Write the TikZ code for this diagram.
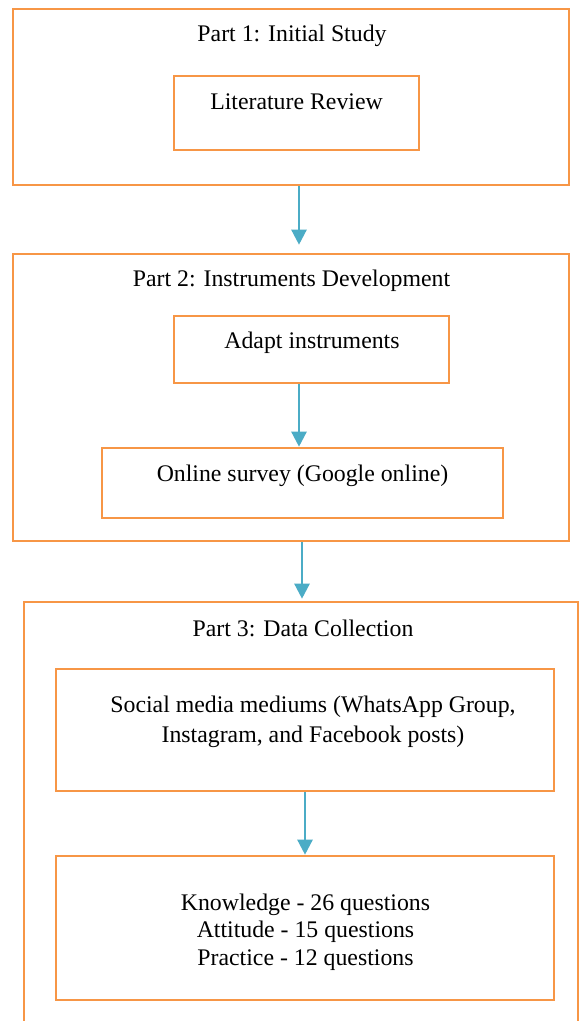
\documentclass[tikz,border=0pt]{standalone}
\usepackage{fontspec}
\setmainfont{Liberation Serif}
\usetikzlibrary{arrows.meta}

\definecolor{boxorange}{HTML}{F79646}
\definecolor{arrowblue}{HTML}{4BACC6}

\tikzset{
  box/.style={draw=boxorange, line width=1.3pt, rectangle, inner sep=0pt},
  txt/.style={anchor=base, inner sep=0pt, align=center, font=\fontsize{11.9}{15}\selectfont},
  flow/.style={draw=arrowblue, line width=1.2pt, -{Triangle[width=7.5pt,length=7.5pt]}}
}

\begin{document}
\begin{tikzpicture}[x=0.5pt,y=-0.5pt]
        \clip (0,0) rectangle (579,1021);
        \fill[white] (0,0) rectangle (579,1021);
        % part 1
        \node[box, minimum width=278pt, minimum height=88pt] (part1) at (291,97) {};
        \node[txt] (t1) at (292,42) {Part 1: Initial Study};
        \node[box, minimum width=122.5pt, minimum height=37pt] (lit) at (296.5,113) {};
        \node[txt] (tlit) at (296.5,110) {Literature Review};
        % part 2
        \node[box, minimum width=278pt, minimum height=143.5pt] (part2) at (291,397.5) {};
        \node[txt] (t2) at (291.5,287) {Part 2: Instruments Development};
        \node[box, minimum width=137.5pt, minimum height=33.5pt] (adapt) at (311.5,349.5) {};
        \node[txt] (tadapt) at (312,348) {Adapt instruments};
        \node[box, minimum width=200.5pt, minimum height=35pt] (online) at (302.5,483) {};
        \node[txt] (tonline) at (302.5,481) {Online survey (Google online)};
        % part 3 (runs off the bottom)
        \node[box, minimum width=277pt, minimum height=260pt] (part3) at (301,862) {};
        \node[txt] (t3) at (303,636) {Part 3: Data Collection};
        \node[box, minimum width=249pt, minimum height=61pt] (social) at (305,730) {};
        % base of a multi-line node is its last line
        \node[txt] (tsocial) at (313,742) {Social media mediums (WhatsApp Group,\\Instagram, and Facebook posts)};
        \node[box, minimum width=249pt, minimum height=72pt] (kap) at (305,928) {};
        \node[txt, font=\fontsize{11.9}{13.75}\selectfont] (tkap) at (305.5,965) {Knowledge - 26 questions\\Attitude - 15 questions\\Practice - 12 questions};
        % arrows
        \draw[flow] ([xshift=4pt]part1.south) -- ([xshift=4pt,yshift=4pt]part2.north);
        \draw[flow] ([xshift=-6.25pt]adapt.south) -- ([xshift=-6.25pt]adapt.south |- online.north);
        \draw[flow] ([xshift=5.5pt]part2.south) -- ([xshift=5.5pt,yshift=1pt]part2.south |- part3.north);
        \draw[flow] (social.south) -- (kap.north);
    \end{tikzpicture}
\end{document}
